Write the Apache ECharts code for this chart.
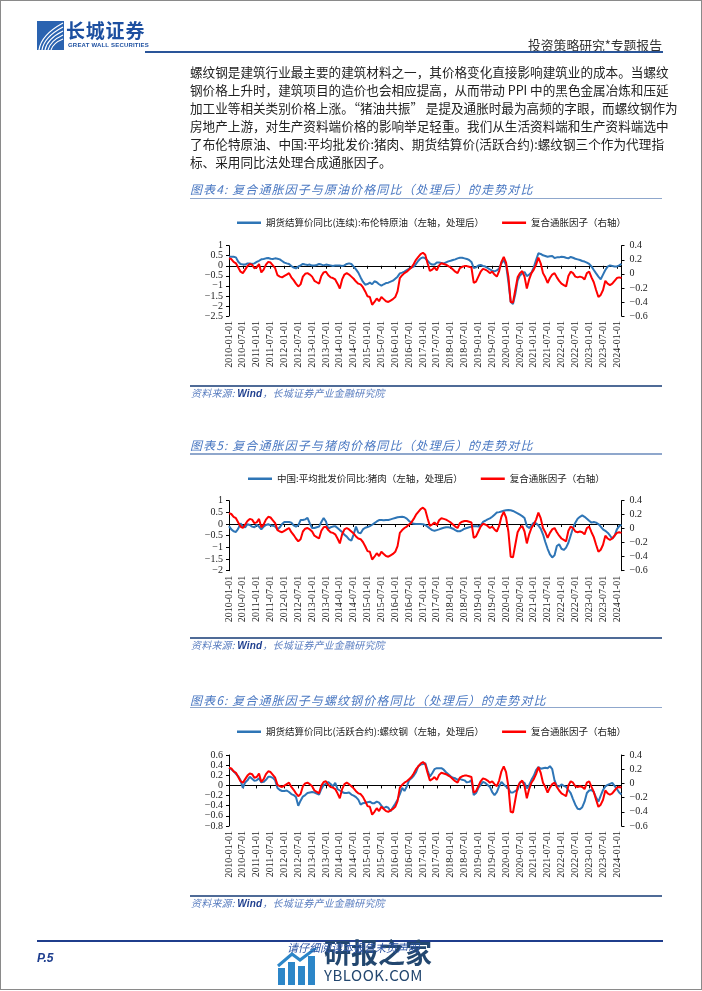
<!DOCTYPE html>
<html><head><meta charset="utf-8">
<script src="https://cdn.jsdelivr.net/npm/echarts/dist/echarts.min.js"></script>
<style>
html,body{margin:0;padding:0;background:#fff;}
#page{position:relative;width:702px;height:991px;overflow:hidden;background:#fff;font-family:"Noto Sans CJK SC","Noto Sans",sans-serif;}
#chart{position:absolute;left:0;top:0;width:702px;height:991px;}
.t{position:absolute;white-space:nowrap;}
.p{position:absolute;left:190px;width:474px;font-size:12.6px;line-height:18px;color:#222;text-align:justify;text-align-last:justify;white-space:nowrap;}
.p.last{text-align-last:left;}
.title{position:absolute;left:190px;font-size:12px;line-height:14px;font-style:italic;color:#4A78C2;letter-spacing:1.1px;}
.tl{position:absolute;left:190px;width:472px;height:1.5px;background:#8FA7CC;}
.sl{position:absolute;left:190px;width:472px;height:2px;background:#4F6B97;}
.src{position:absolute;left:191px;font-size:10px;line-height:12px;font-style:italic;color:#5A7EC0;letter-spacing:0.2px;}
.src b{color:#1F3F8F;font-family:"Liberation Sans",sans-serif;}
</style></head>
<body>
<div id="page">
<div id="chart"></div>

<!-- page border -->
<div class="t" style="left:0;top:0;width:700px;height:988px;border:1px solid #8a8a8a;"></div>

<!-- header -->
<svg class="t" style="left:37px;top:21px" width="27" height="29" viewBox="0 0 27 29">
  <rect x="0" y="0" width="27" height="29" fill="#2A63B0"/>
  <path d="M2 29 Q4 14 26 2" stroke="#fff" stroke-width="1.2" fill="none"/>
  <path d="M5 29 Q7 16 26 6" stroke="#fff" stroke-width="1.2" fill="none"/>
  <path d="M8 29 Q10 18 26 10" stroke="#fff" stroke-width="1.2" fill="none"/>
  <path d="M11 29 Q13 20 26 14" stroke="#fff" stroke-width="1.2" fill="none"/>
  <path d="M14 29 Q16 22 26 18" stroke="#fff" stroke-width="1.2" fill="none"/>
</svg>
<div class="t" style="left:66px;top:19px;font-size:19px;line-height:21px;font-weight:bold;color:#1C4FA0;letter-spacing:0.8px;">长城证券</div>
<div class="t" style="left:68px;top:42px;font-size:6px;line-height:7px;font-weight:bold;color:#1C4FA0;font-family:'Liberation Sans',sans-serif;letter-spacing:0.2px;">GREAT WALL SECURITIES</div>
<div class="t" style="left:528px;top:37px;font-size:12.8px;line-height:16px;color:#333;">投资策略研究*专题报告</div>
<div class="t" style="left:145px;top:51px;width:518px;height:2px;background:#2A5599;"></div>

<!-- paragraph -->
<div class="p" style="top:63px">螺纹钢是建筑行业最主要的建筑材料之一，其价格变化直接影响建筑业的成本。当螺纹</div>
<div class="p" style="top:81px">钢价格上升时，建筑项目的造价也会相应提高，从而带动 PPI 中的黑色金属冶炼和压延</div>
<div class="p" style="top:99px">加工业等相关类别价格上涨。“猪油共振” 是提及通胀时最为高频的字眼，而螺纹钢作为</div>
<div class="p" style="top:117px">房地产上游，对生产资料端价格的影响举足轻重。我们从生活资料端和生产资料端选中</div>
<div class="p" style="top:135px">了布伦特原油、中国:平均批发价:猪肉、期货结算价(活跃合约):螺纹钢三个作为代理指</div>
<div class="p last" style="top:153px">标、采用同比法处理合成通胀因子。</div>

<!-- chart 1 frame -->
<div class="title" style="top:182px">图表4: 复合通胀因子与原油价格同比（处理后）的走势对比</div>
<div class="tl" style="top:197.5px"></div>
<div class="sl" style="top:385px"></div>
<div class="src" style="top:387px">资料来源: <b>Wind</b>，长城证券产业金融研究院</div>

<!-- chart 2 frame -->
<div class="title" style="top:438px">图表5: 复合通胀因子与猪肉价格同比（处理后）的走势对比</div>
<div class="tl" style="top:453px"></div>
<div class="sl" style="top:637px"></div>
<div class="src" style="top:639px">资料来源: <b>Wind</b>，长城证券产业金融研究院</div>

<!-- chart 3 frame -->
<div class="title" style="top:693px">图表6: 复合通胀因子与螺纹钢价格同比（处理后）的走势对比</div>
<div class="tl" style="top:706.5px"></div>
<div class="sl" style="top:895px"></div>
<div class="src" style="top:897px">资料来源: <b>Wind</b>，长城证券产业金融研究院</div>

<!-- footer -->
<div class="t" style="left:37px;top:940px;width:626px;height:2px;background:#1F3D8C;"></div>
<div class="t" style="left:37px;top:951px;font-size:12px;line-height:14px;font-weight:bold;font-style:italic;color:#1F3F8F;font-family:'Liberation Sans',sans-serif;">P.5</div>
<svg class="t" style="left:276px;top:948px" width="46" height="38" viewBox="0 0 46 38">
  <rect x="2" y="20" width="7" height="17" fill="#2C86C8"/>
  <rect x="12" y="14" width="7" height="23" fill="#2C86C8"/>
  <rect x="22" y="18" width="7" height="19" fill="#2C86C8"/>
  <rect x="32" y="8" width="7" height="29" fill="#2C86C8"/>
  <path d="M2 18 L16 6 L24 12 L40 0" stroke="#2C86C8" stroke-width="3" fill="none"/>
</svg>
<div class="t" style="left:324px;top:937px;font-size:27px;line-height:30px;font-weight:bold;color:#23476F;">研报之家</div>
<div class="t" style="left:287px;top:941px;font-size:11px;line-height:13px;font-style:italic;color:#2F55A4;">请仔细阅读本报告末页声明</div>
<div class="t" style="left:324px;top:966px;font-size:15px;line-height:18px;color:#23476F;letter-spacing:0.5px;">YBLOOK.COM</div>
</div>

<script>
// ---- categories (monthly, 2010-01 .. 2024-03) ----
const months = [];
for (let y = 2010; y <= 2024; y++) {
  for (let m = 1; m <= 12; m++) {
    if (y === 2024 && m > 3) break;
    months.push(y + '-' + (m < 10 ? '0' + m : m) + '-01');
  }
}

// ---- series names ----
const nameBrent = '期货结算价同比(连续):布伦特原油（左轴，处理后）';
const namePork  = '中国:平均批发价同比:猪肉（左轴，处理后）';
const nameRebar = '期货结算价同比(活跃合约):螺纹钢（左轴，处理后）';
const nameFactor = '复合通胀因子（右轴）';

// ---- composite inflation factor (right axis, shared by all three charts) ----
const factor = [
 0.22,0.21,0.17,0.15,0.09,0.03,0.01,0.06,0.11,0.14,
 0.13,0.08,0.09,0.14,0.02,0.06,0.13,0.17,0.16,0.12,
 0.08,-0.02,-0.04,-0.05,-0.03,-0.01,0.01,-0.05,-0.09,-0.14,
 -0.18,-0.15,-0.04,0.00,0.01,-0.01,-0.04,-0.10,-0.12,-0.14,
 -0.03,0.02,0.03,-0.02,-0.05,-0.06,-0.08,-0.14,-0.21,-0.08,
 -0.01,0.01,-0.01,-0.04,-0.07,-0.11,-0.14,-0.15,-0.19,-0.25,
 -0.32,-0.33,-0.44,-0.40,-0.35,-0.39,-0.33,-0.36,-0.39,-0.40,
 -0.38,-0.36,-0.33,-0.25,-0.06,-0.02,0.01,0.03,0.06,0.09,
 0.14,0.20,0.24,0.28,0.30,0.27,0.15,0.04,0.06,0.09,
 0.05,0.12,0.15,0.14,0.13,0.11,0.09,0.06,0.03,0.01,
 0.08,0.10,0.11,0.11,0.10,0.09,-0.13,-0.11,-0.04,0.03,
 0.07,0.06,0.04,0.01,0.03,-0.01,-0.04,0.04,0.17,0.24,
 0.16,-0.04,-0.40,-0.41,-0.23,-0.05,0.01,0.04,-0.04,-0.21,
 -0.08,0.01,0.06,0.13,0.23,0.15,0.01,-0.05,-0.13,-0.06,
 -0.01,0.01,-0.05,-0.10,-0.14,-0.16,-0.18,-0.03,0.03,0.01,
 -0.04,-0.05,-0.04,-0.05,-0.08,0.01,0.03,-0.05,-0.12,-0.23,
 -0.33,-0.30,-0.23,-0.10,-0.14,-0.16,-0.14,-0.10,-0.06,-0.05,
 -0.06];

// ---- Brent crude yoy (processed, left axis) ----
const brent = [
 0.45,0.45,0.45,0.42,0.20,0.09,0.07,0.06,0.12,0.12,
 0.09,0.12,0.19,0.25,0.32,0.34,0.37,0.39,0.35,0.34,
 0.37,0.35,0.32,0.24,0.16,0.12,0.09,-0.01,-0.09,-0.13,
 -0.04,0.02,0.09,0.06,0.04,0.06,0.01,0.01,0.04,0.09,
 0.06,0.02,0.06,0.04,0.02,-0.01,0.01,0.02,0.01,-0.01,
 0.02,0.09,0.12,0.09,-0.04,-0.18,-0.34,-0.58,-0.79,-0.94,
 -0.91,-0.84,-0.92,-0.77,-0.82,-0.92,-0.99,-0.92,-0.86,-0.84,
 -0.79,-0.74,-0.64,-0.54,-0.38,-0.34,-0.29,-0.21,-0.14,-0.09,
 -0.04,0.09,0.25,0.37,0.42,0.37,0.25,0.12,0.06,0.06,
 0.16,0.16,0.14,0.12,0.17,0.22,0.25,0.29,0.32,0.37,
 0.40,0.40,0.37,0.34,0.29,0.19,-0.11,-0.08,0.01,0.04,
 -0.01,-0.04,-0.11,-0.18,-0.24,-0.28,-0.23,-0.13,0.12,0.29,
 0.04,-0.79,-1.79,-1.90,-1.41,-0.74,-0.48,-0.38,-0.31,-0.51,
 -0.44,-0.34,-0.08,0.29,0.62,0.59,0.52,0.49,0.45,0.47,
 0.49,0.39,0.42,0.42,0.45,0.44,0.40,0.37,0.44,0.40,
 0.35,0.32,0.29,0.24,0.21,0.16,0.09,-0.03,-0.21,-0.38,
 -0.54,-0.67,-0.44,-0.21,-0.04,0.02,-0.01,-0.04,-0.03,0.02,
 0.09];

// ---- Pork wholesale price yoy (processed, left axis) ----
const pork = [
 -0.09,-0.23,-0.31,-0.34,-0.20,0.03,-0.11,-0.14,-0.01,-0.04,
 -0.11,-0.14,-0.03,-0.11,-0.23,-0.11,-0.04,-0.01,-0.06,-0.07,
 -0.11,-0.23,-0.14,0.00,0.09,0.09,0.09,0.06,-0.06,-0.11,
 -0.06,0.17,0.17,0.20,0.26,0.03,-0.17,-0.17,-0.14,-0.11,
 0.09,0.26,0.11,-0.20,-0.14,-0.11,-0.09,-0.17,-0.26,-0.34,
 -0.46,-0.54,-0.66,-0.71,-0.44,-0.11,-0.37,-0.40,-0.23,-0.16,
 -0.13,-0.09,-0.03,0.04,0.11,0.17,0.17,0.16,0.17,0.17,
 0.20,0.23,0.26,0.29,0.30,0.31,0.29,0.23,0.13,0.06,
 0.01,0.00,0.00,0.00,-0.01,-0.04,-0.11,-0.19,-0.26,-0.29,
 -0.26,-0.23,-0.19,-0.16,-0.14,-0.14,-0.16,-0.20,-0.26,-0.31,
 -0.31,-0.26,-0.20,-0.17,-0.14,-0.11,-0.09,-0.09,-0.11,-0.06,
 0.09,0.14,0.20,0.24,0.31,0.40,0.49,0.51,0.54,0.57,
 0.59,0.60,0.59,0.56,0.51,0.46,0.40,0.34,0.26,-0.09,
 -0.17,-0.06,0.06,0.03,-0.06,-0.20,-0.44,-0.77,-1.06,-1.30,
 -1.43,-1.34,-0.94,-0.87,-1.06,-1.11,-1.01,-0.80,-0.49,-0.17,
 0.06,0.23,0.31,0.37,0.31,0.23,0.14,0.06,0.09,0.06,
 0.00,-0.11,-0.23,-0.29,-0.37,-0.49,-0.63,-0.51,-0.23,-0.09,
 -0.03];

// ---- Rebar futures yoy (processed, left axis) ----
const rebar = [
 0.34,0.32,0.28,0.23,0.18,0.10,-0.05,0.06,0.10,0.17,
 0.13,0.09,0.10,0.14,0.06,0.07,0.11,0.17,0.17,0.15,
 0.10,-0.05,-0.09,-0.11,-0.11,-0.10,-0.13,-0.17,-0.19,-0.23,
 -0.40,-0.30,-0.22,-0.19,-0.15,-0.14,-0.13,-0.14,-0.16,-0.18,
 -0.07,0.01,0.03,0.07,0.03,-0.02,0.05,-0.07,-0.10,-0.13,
 -0.15,-0.15,-0.14,-0.18,-0.20,-0.23,-0.28,-0.38,-0.35,-0.34,
 -0.33,-0.32,-0.35,-0.35,-0.32,-0.34,-0.40,-0.45,-0.42,-0.44,
 -0.51,-0.43,-0.36,-0.28,-0.17,-0.05,-0.11,-0.02,0.10,0.14,
 0.19,0.26,0.38,0.41,0.42,0.44,0.30,0.17,0.24,0.32,
 0.34,0.34,0.34,0.31,0.26,0.22,0.18,0.15,0.14,0.11,
 0.13,0.11,0.10,0.06,0.07,0.10,-0.19,-0.15,-0.05,0.01,
 0.07,0.05,0.01,-0.03,-0.13,-0.19,-0.13,-0.02,0.07,0.02,
 -0.02,-0.06,-0.14,-0.14,-0.11,-0.09,0.06,0.07,0.05,-0.06,
 0.01,0.11,0.19,0.30,0.36,0.33,0.34,0.35,0.34,0.38,
 0.32,0.10,-0.01,-0.02,0.02,-0.01,-0.03,-0.09,-0.15,-0.27,
 -0.38,-0.46,-0.47,-0.43,-0.32,-0.15,-0.10,-0.09,-0.13,-0.24,
 -0.32,-0.20,-0.09,-0.02,0.01,0.03,0.05,-0.01,-0.07,-0.14,
 -0.18];

// ---- axis ranges ----
const leftRanges = [[-2.5, 1, 0.5], [-2, 1, 0.5], [-0.8, 0.6, 0.2]];
const rightRange = [-0.6, 0.4, 0.2];
const blueSeries = [brent, pork, rebar];
const blueNames = [nameBrent, namePork, nameRebar];

// ---- layout ----
const gridTops = [245.7, 500.7, 755];
const gridHeights = [70.3, 70, 71];
const legendTops = [218, 474, 727];
const legendLefts = [237, 248, 237];

const BLUE = '#2E75B6', RED = '#FF0000';
const numFmt = v => { const r = Math.round(v * 10) / 10; return r < 0 ? '\u2212' + Math.abs(r) : String(r); };
const serif = '"Liberation Serif","DejaVu Serif",serif';

const grid = [], xAxis = [], yAxis = [], series = [], legend = [];
for (let i = 0; i < 3; i++) {
  grid.push({ left: 229, width: 392.5, top: gridTops[i], height: gridHeights[i], containLabel: false });
  xAxis.push({
    gridIndex: i, type: 'category', data: months, boundaryGap: false, position: 'bottom',
    axisLine: { show: true, onZero: true, onZeroAxisIndex: 2 * i, lineStyle: { color: '#000', width: 1 } },
    axisTick: { show: true, interval: 5, length: 3, lineStyle: { color: '#000' } },
    axisLabel: { show: false }, splitLine: { show: false }
  });
  xAxis.push({
    gridIndex: i, type: 'category', data: months, boundaryGap: false, position: 'bottom',
    axisLine: { show: false, onZero: false }, axisTick: { show: false },
    axisLabel: { show: true, interval: 5, rotate: 90, fontSize: 10, fontFamily: serif, color: '#222', margin: 5 },
    splitLine: { show: false }
  });
  const lr = leftRanges[i];
  yAxis.push({
    gridIndex: i, type: 'value', position: 'left', min: lr[0], max: lr[1], interval: lr[2],
    axisLine: { show: true, lineStyle: { color: '#000', width: 1 } },
    axisTick: { show: true, length: 3, lineStyle: { color: '#000' } },
    splitLine: { show: false },
    axisLabel: { fontSize: 10, fontFamily: serif, color: '#222', margin: 6, formatter: numFmt }
  });
  yAxis.push({
    gridIndex: i, type: 'value', position: 'right', min: rightRange[0], max: rightRange[1], interval: rightRange[2],
    alignTicks: false,
    axisLine: { show: true, lineStyle: { color: '#000', width: 1 } },
    axisTick: { show: true, length: 3, lineStyle: { color: '#000' } },
    splitLine: { show: false },
    axisLabel: { fontSize: 10, fontFamily: serif, color: '#222', margin: 8, formatter: numFmt }
  });
  series.push({
    name: blueNames[i], type: 'line', xAxisIndex: 2 * i, yAxisIndex: 2 * i,
    data: blueSeries[i], showSymbol: false, symbol: 'none', smooth: false,
    lineStyle: { color: BLUE, width: 2 }, itemStyle: { color: BLUE }, z: 2
  });
  series.push({
    name: nameFactor, type: 'line', xAxisIndex: 2 * i, yAxisIndex: 2 * i + 1,
    data: factor, showSymbol: false, symbol: 'none', smooth: false,
    lineStyle: { color: RED, width: 2 }, itemStyle: { color: RED }, z: 3
  });
  legend.push({
    left: legendLefts[i], top: legendTops[i], padding: 0, itemGap: 18,
    icon: 'rect', itemWidth: 24, itemHeight: 2.5,
    textStyle: { fontSize: 9.5, color: '#222', fontFamily: '"Noto Sans CJK SC",sans-serif' },
    data: [blueNames[i], nameFactor]
  });
}

const chart = echarts.init(document.getElementById('chart'), null, { renderer: 'canvas' });
chart.setOption({ animation: false, backgroundColor: 'transparent', grid, xAxis, yAxis, series, legend });
</script>
</body></html>
